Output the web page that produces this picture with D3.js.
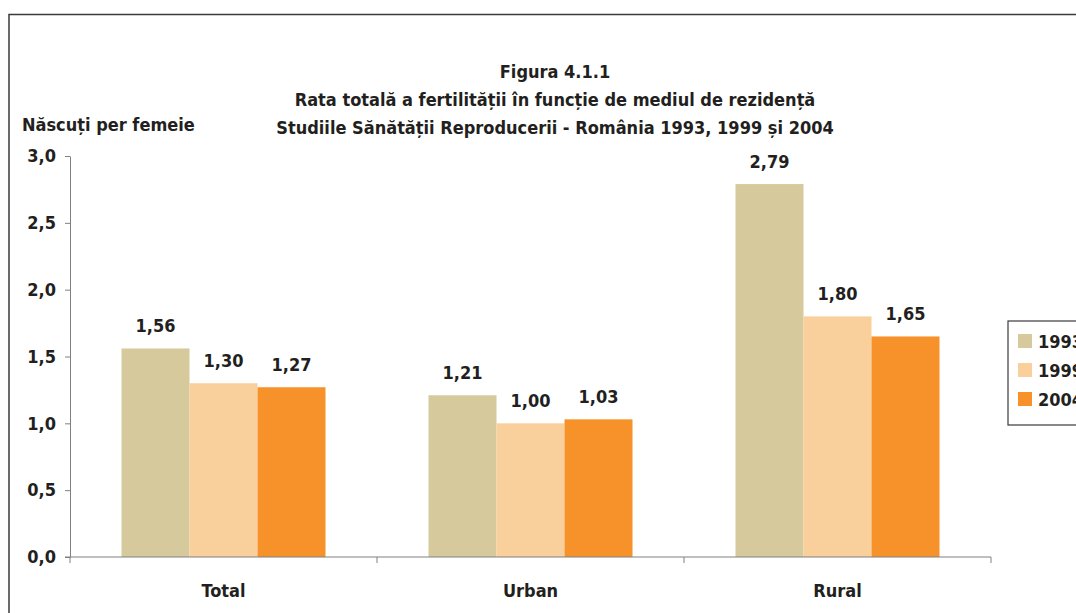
<!DOCTYPE html>
<html lang="ro">
<head>
<meta charset="utf-8">
<title>Figura 4.1.1</title>
<script src="https://d3js.org/d3.v7.min.js"></script>
<style>
  body { margin: 0; background: #fff; }
  svg text { font-family: "Liberation Sans Narrow", "DejaVu Sans Condensed", "Arial Narrow", sans-serif; font-weight: bold; fill: #231f20; }
</style>
</head>
<body>
<script>
// chart data
var categories = ["Total", "Urban", "Rural"];
var years = ["1993", "1999", "2004"];
var v1993 = [1.56, 1.21, 2.79];
var v1999 = [1.30, 1.00, 1.80];
var v2004 = [1.27, 1.03, 1.65];
var yTicks = [0, 0.5, 1.0, 1.5, 2.0, 2.5, 3.0];
var titleLines = ["Figura 4.1.1",
                  "Rata totală a fertilității în funcție de mediul de rezidență",
                  "Studiile Sănătății Reproducerii - România 1993, 1999 și 2004"];

var series = [v1993, v1999, v2004];
var colors = ["#d6ca9c", "#f9cf9b", "#f7922a"];

var width = 1076, height = 613;
var svg = d3.select("body").append("svg")
    .attr("width", width)
    .attr("height", height);

// outer frame
svg.append("path")
    .attr("d", "M9,613 V14.5 H1076")
    .attr("fill", "none")
    .attr("stroke", "#3a3a3a")
    .attr("stroke-width", 1.5);

var x0 = d3.scaleBand().domain(categories).range([70, 991]).paddingInner(0).paddingOuter(0);
var x1 = d3.scaleBand().domain(years).range([0, 204]);
var y = d3.scaleLinear().domain([0, 3]).range([557, 156]);

var fmt = function(v) { return d3.format(".2f")(v).replace(".", ","); };

// titles
svg.selectAll(".title")
    .data(titleLines)
  .enter().append("text")
    .attr("x", 555)
    .attr("y", function(d, i) { return 78 + i * 28; })
    .attr("text-anchor", "middle")
    .style("font-size", "18px")
    .text(function(d) { return d; });

svg.append("text")
    .attr("x", 22)
    .attr("y", 131)
    .style("font-size", "18px")
    .text("Născuți per femeie");

// bars
var groups = svg.selectAll(".grp")
    .data(categories)
  .enter().append("g")
    .attr("transform", function(d) { return "translate(" + (x0(d) + (x0.bandwidth() - 204) / 2) + ",0)"; });

groups.each(function(c, ci) {
  var g = d3.select(this);
  years.forEach(function(yr, si) {
    var v = series[si][ci];
    g.append("rect")
        .attr("x", x1(yr))
        .attr("y", y(v))
        .attr("width", x1.bandwidth())
        .attr("height", y(0) - y(v))
        .attr("fill", colors[si]);
    g.append("text")
        .attr("x", x1(yr) + x1.bandwidth() / 2)
        .attr("y", y(v) - 16)
        .attr("text-anchor", "middle")
        .style("font-size", "18px")
        .text(fmt(v));
  });
});

// y axis
var yAxis = d3.axisLeft(y).tickValues(yTicks).tickSize(5).tickSizeOuter(0)
    .tickFormat(function(d) { return d3.format(".1f")(d).replace(".", ","); });
var gy = svg.append("g").attr("transform", "translate(70,0)").call(yAxis);
gy.selectAll("line, path").attr("stroke", "#808080");
gy.selectAll("text").attr("x", -14).style("font-size", "18px").attr("fill", "#231f20");

// x axis
var gx = svg.append("g").attr("transform", "translate(0,557)");
gx.append("line").attr("x1", 65).attr("x2", 991).attr("stroke", "#808080");
gx.selectAll(".xt")
    .data(x0.range().concat(categories.slice(1).map(function(c) { return x0(c); })))
  .enter().append("line")
    .attr("x1", function(d) { return d; })
    .attr("x2", function(d) { return d; })
    .attr("y1", 0).attr("y2", 6)
    .attr("stroke", "#808080");
gx.selectAll(".xl")
    .data(categories)
  .enter().append("text")
    .attr("x", function(d) { return x0(d) + x0.bandwidth() / 2; })
    .attr("y", 40)
    .attr("text-anchor", "middle")
    .style("font-size", "18px")
    .text(function(d) { return d; });

// legend
var lg = svg.append("g").attr("transform", "translate(1008,321)");
lg.append("rect")
    .attr("x", 0).attr("y", 0).attr("width", 80).attr("height", 104)
    .attr("fill", "#fff").attr("stroke", "#3a3a3a").attr("stroke-width", 1.2);
years.forEach(function(yr, i) {
  lg.append("rect")
      .attr("x", 10).attr("y", 13 + i * 29)
      .attr("width", 14).attr("height", 14)
      .attr("fill", colors[i]);
  lg.append("text")
      .attr("x", 30).attr("y", 27 + i * 29)
      .style("font-size", "18px")
      .text(yr);
});
</script>
</body>
</html>
